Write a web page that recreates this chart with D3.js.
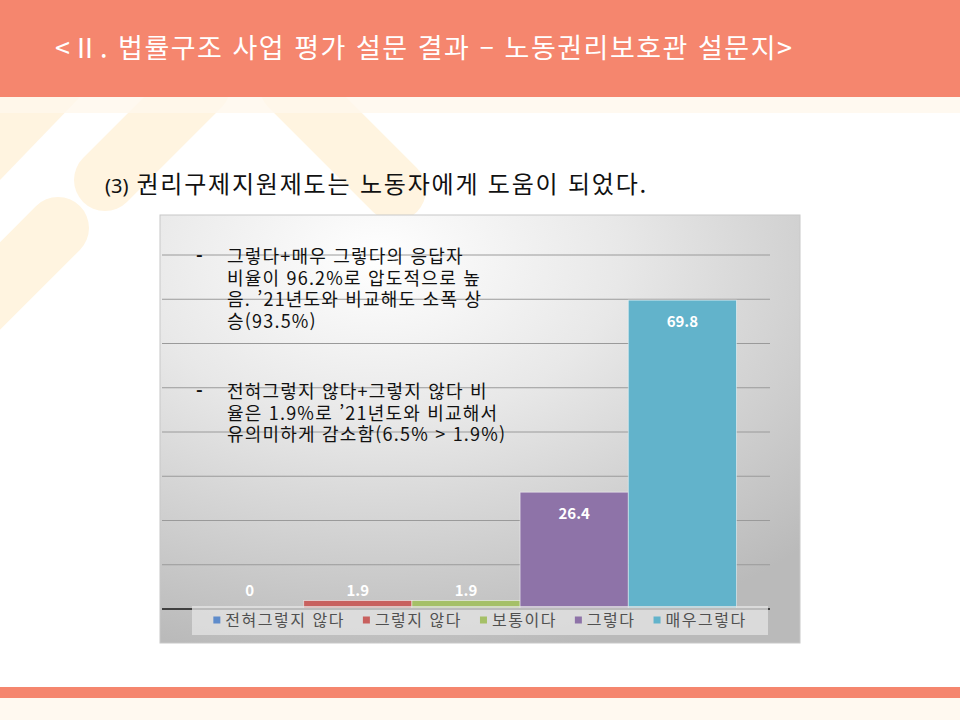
<!DOCTYPE html>
<html lang="ko">
<head>
<meta charset="utf-8">
<script src="https://d3js.org/d3.v7.min.js"></script>
<style>
  body { margin: 0; background: #fff; }
  text { font-family: "Noto Sans CJK KR", "Noto Sans", sans-serif; }
</style>
</head>
<body>
<script>

// chart data //
const categories = ['전혀그렇지 않다', '그렇지 않다', '보통이다', '그렇다', '매우그렇다']
const values = [0, 1.9, 1.9, 26.4, 69.8]
const barColors = ['#5f8ccb', '#c8605e', '#a5c067', '#8e73a8', '#62b3cb']
const yTicks = [0, 10, 20, 30, 40, 50, 60, 70, 80]

const headerText = '<Ⅱ. 법률구조 사업 평가 설문 결과 – 노동권리보호관 설문지>'
const titleNum = '(3)'
const titleText = '권리구제지원제도는 노동자에게 도움이 되었다.'
const note1 = ['그렇다+매우 그렇다의 응답자', '비율이 96.2%로 압도적으로 높', '음. ’21년도와 비교해도 소폭 상', '승(93.5%)']
const note2 = ['전혀그렇지 않다+그렇지 않다 비', '율은 1.9%로 ’21년도와 비교해서', '유의미하게 감소함(6.5% > 1.9%)']

const width = 960,
  height = 720

const svg = d3.select('body')
  .append('svg')
  .attr('width', width)
  .attr('height', height)

const defs = svg.append('defs')
const grad = defs.append('radialGradient')
  .attr('id', 'chartBg')
  .attr('cx', '0.34').attr('cy', '0.1').attr('r', '0.95')
grad.append('stop').attr('offset', '0').attr('stop-color', '#ffffff')
grad.append('stop').attr('offset', '0.4').attr('stop-color', '#e8e8e8')
grad.append('stop').attr('offset', '1').attr('stop-color', '#bababa')

// background decoration (faint diagonal stripes)
const stripe = '#fff4e0'
const deco = svg.append('g').attr('fill', stripe)
deco.append('path').attr('d', 'M0,97 L80,97 L0,180 Z')
deco.selectAll('line')
  .data([[105, 180, 200, 85], [290, 85, 395, 190], [58, 228, -60, 346]])
  .enter()
  .append('line')
  .attr('x1', d => d[0]).attr('y1', d => d[1])
  .attr('x2', d => d[2]).attr('y2', d => d[3])
  .attr('stroke', stripe).attr('stroke-width', 62).attr('stroke-linecap', 'round')

// header
svg.append('rect').attr('x', 0).attr('y', 0).attr('width', width).attr('height', 97).attr('fill', '#f5866e')
svg.append('rect').attr('x', 0).attr('y', 97).attr('width', width).attr('height', 16).attr('fill', '#fff8ec').attr('opacity', 0.8)
svg.append('text')
  .attr('x', 55).attr('y', 58)
  .attr('fill', '#ffffff')
  .attr('font-size', 27)
  .attr('letter-spacing', 1.5)
  .text(headerText)

// footer
svg.append('rect').attr('x', 0).attr('y', 687).attr('width', width).attr('height', 11).attr('fill', '#f5866e')
svg.append('rect').attr('x', 0).attr('y', 698).attr('width', width).attr('height', 22).attr('fill', '#fff9f0')

// slide title
const title = svg.append('text').attr('x', 105).attr('y', 193).attr('fill', '#111')
title.append('tspan').attr('font-family', 'Noto Sans, sans-serif').attr('font-size', 20).text(titleNum)
title.append('tspan').attr('dx', 8).attr('font-size', 24).attr('letter-spacing', 1.8).text(titleText)

// chart box
const box = {x: 160, y: 215, w: 640, h: 428}
svg.append('rect')
  .attr('x', box.x).attr('y', box.y)
  .attr('width', box.w).attr('height', box.h)
  .attr('fill', 'url(#chartBg)')
  .attr('stroke', '#c8c8c8')

const plotLeft = 162,
  plotRight = 770

const x = d3.scaleBand()
  .domain(categories)
  .range([plotLeft, plotRight])
  .paddingInner(0)
  .paddingOuter(0.31)

const y = d3.scaleLinear()
  .domain([0, 80])
  .range([609, 255])

// gridlines
svg.append('g')
  .selectAll('line')
  .data(yTicks.slice(1))
  .enter()
  .append('line')
  .attr('x1', plotLeft).attr('x2', plotRight)
  .attr('y1', d => y(d)).attr('y2', d => y(d))
  .attr('stroke', '#9a9a9a')
  .attr('stroke-width', 1)

// annotation text
function note(lines, top) {
  const g = svg.append('g').attr('fill', '#111').attr('font-size', 18)
  g.append('text').attr('x', 196).attr('y', top).attr('font-weight', 'bold').text('-')
  g.selectAll('text.l')
    .data(lines)
    .enter()
    .append('text')
    .attr('class', 'l')
    .attr('x', 227)
    .attr('y', (d, i) => top + i * 21.5)
    .attr('letter-spacing', 1.2)
    .text(d => d)
}
note(note1, 263)
note(note2, 398)

// bars
svg.append('g')
  .selectAll('rect')
  .data(values)
  .enter()
  .append('rect')
  .attr('x', (d, i) => x(categories[i]))
  .attr('y', d => y(d))
  .attr('width', x.bandwidth())
  .attr('height', d => y(0) - y(d))
  .attr('fill', (d, i) => barColors[i])
  .attr('stroke', '#ffffff')
  .attr('stroke-opacity', 0.6)
  .attr('stroke-width', 0.8)

// data labels
svg.append('g')
  .selectAll('text')
  .data(values)
  .enter()
  .append('text')
  .attr('x', (d, i) => x(categories[i]) + x.bandwidth() / 2)
  .attr('y', d => (y(0) - y(d) > 30 ? y(d) + 27 : y(0) - 13))
  .attr('text-anchor', 'middle')
  .attr('fill', '#ffffff')
  .attr('font-family', 'Noto Sans, sans-serif')
  .attr('font-weight', 'bold')
  .attr('font-size', 15)
  .text(d => d)

// axis baseline
svg.append('line')
  .attr('x1', plotLeft).attr('x2', plotRight)
  .attr('y1', y(0)).attr('y2', y(0))
  .attr('stroke', '#404040')
  .attr('stroke-width', 2)

// legend
const legBox = {x: 192, y: 606, w: 576, h: 29}
svg.append('rect')
  .attr('x', legBox.x).attr('y', legBox.y)
  .attr('width', legBox.w).attr('height', legBox.h)
  .attr('fill', '#e4e4e4')
  .attr('opacity', 0.75)

const legend = svg.append('g')
const items = legend.selectAll('g')
  .data(categories)
  .enter()
  .append('g')
items.append('rect')
  .attr('width', 7).attr('height', 7)
  .attr('y', -4)
  .attr('fill', (d, i) => barColors[i])
items.append('text')
  .attr('x', 12)
  .attr('y', 0)
  .attr('dy', '0.35em')
  .attr('fill', '#505050')
  .attr('font-size', 16)
  .attr('letter-spacing', 1.5)
  .text(d => d)

let widths = []
items.each(function () { widths.push(12 + d3.select(this).select('text').node().getComputedTextLength()) })
const gap = 18
const total = d3.sum(widths) + gap * (widths.length - 1)
let cx = legBox.x + (legBox.w - total) / 2
items.attr('transform', function (d, i) {
  const t = 'translate(' + cx + ',' + (legBox.y + legBox.h / 2) + ')'
  cx += widths[i] + gap
  return t
})

</script>
</body>
</html>
